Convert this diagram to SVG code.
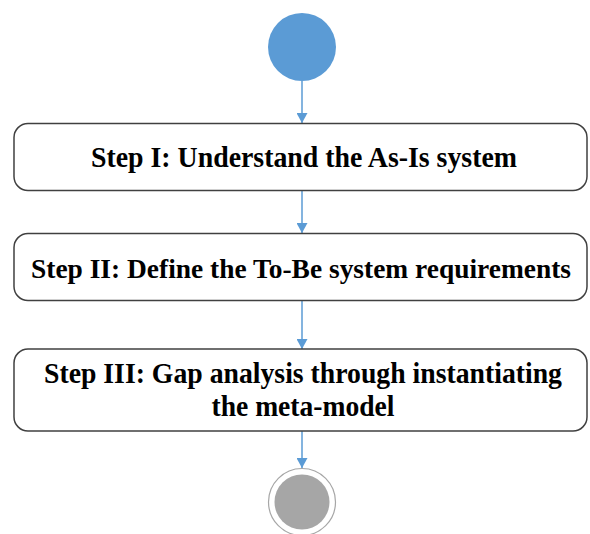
<svg xmlns="http://www.w3.org/2000/svg" width="590" height="534" viewBox="0 0 590 534">
<defs>
<marker id="ah" viewBox="0 0 10 11" refX="10" refY="5.5" markerWidth="10" markerHeight="11" markerUnits="userSpaceOnUse" orient="auto">
<path d="M0,0 L10,5.5 L0,11 Z" fill="#5b9bd5"/>
</marker>
<style>
.box{fill:#fff;stroke:#404040;stroke-width:1.5}
.lbl{font-family:"Liberation Serif","Times New Roman",serif;font-weight:bold;font-size:29px;fill:#000;text-anchor:middle}
.con{stroke:#5b9bd5;stroke-width:1.5;fill:none;marker-end:url(#ah)}
</style>
</defs>
<rect width="590" height="534" fill="#fff"/>
<g id="connectors">
<line class="con" x1="302" y1="81" x2="302" y2="123"/>
<line class="con" x1="302" y1="190" x2="302" y2="233"/>
<line class="con" x1="302" y1="301" x2="302" y2="349"/>
<line class="con" x1="302" y1="431" x2="302" y2="468"/>
</g>
<g id="start">
<circle cx="302" cy="47" r="34" fill="#5b9bd5"/>
</g>
<g id="step1">
<rect class="box" x="14" y="123.5" width="573" height="67" rx="14"/>
<text class="lbl" x="304" y="167" textLength="426" lengthAdjust="spacingAndGlyphs">Step I: Understand the As-Is system</text>
</g>
<g id="step2">
<rect class="box" x="14" y="233.5" width="573" height="67" rx="14"/>
<text class="lbl" x="301" y="278" style="font-size:27px" textLength="540" lengthAdjust="spacingAndGlyphs">Step II: Define the To-Be system requirements</text>
</g>
<g id="step3">
<rect class="box" x="14" y="349" width="573" height="82" rx="14"/>
<text class="lbl" x="303" y="383" textLength="518" lengthAdjust="spacingAndGlyphs">Step III: Gap analysis through instantiating</text>
<text class="lbl" x="303" y="416" textLength="183" lengthAdjust="spacingAndGlyphs">the meta-model</text>
</g>
<g id="end">
<circle cx="302" cy="502" r="33.5" fill="#fff" stroke="#a6a6a6" stroke-width="1.2"/>
<circle cx="302" cy="502" r="27.5" fill="#a6a6a6"/>
</g>
</svg>
